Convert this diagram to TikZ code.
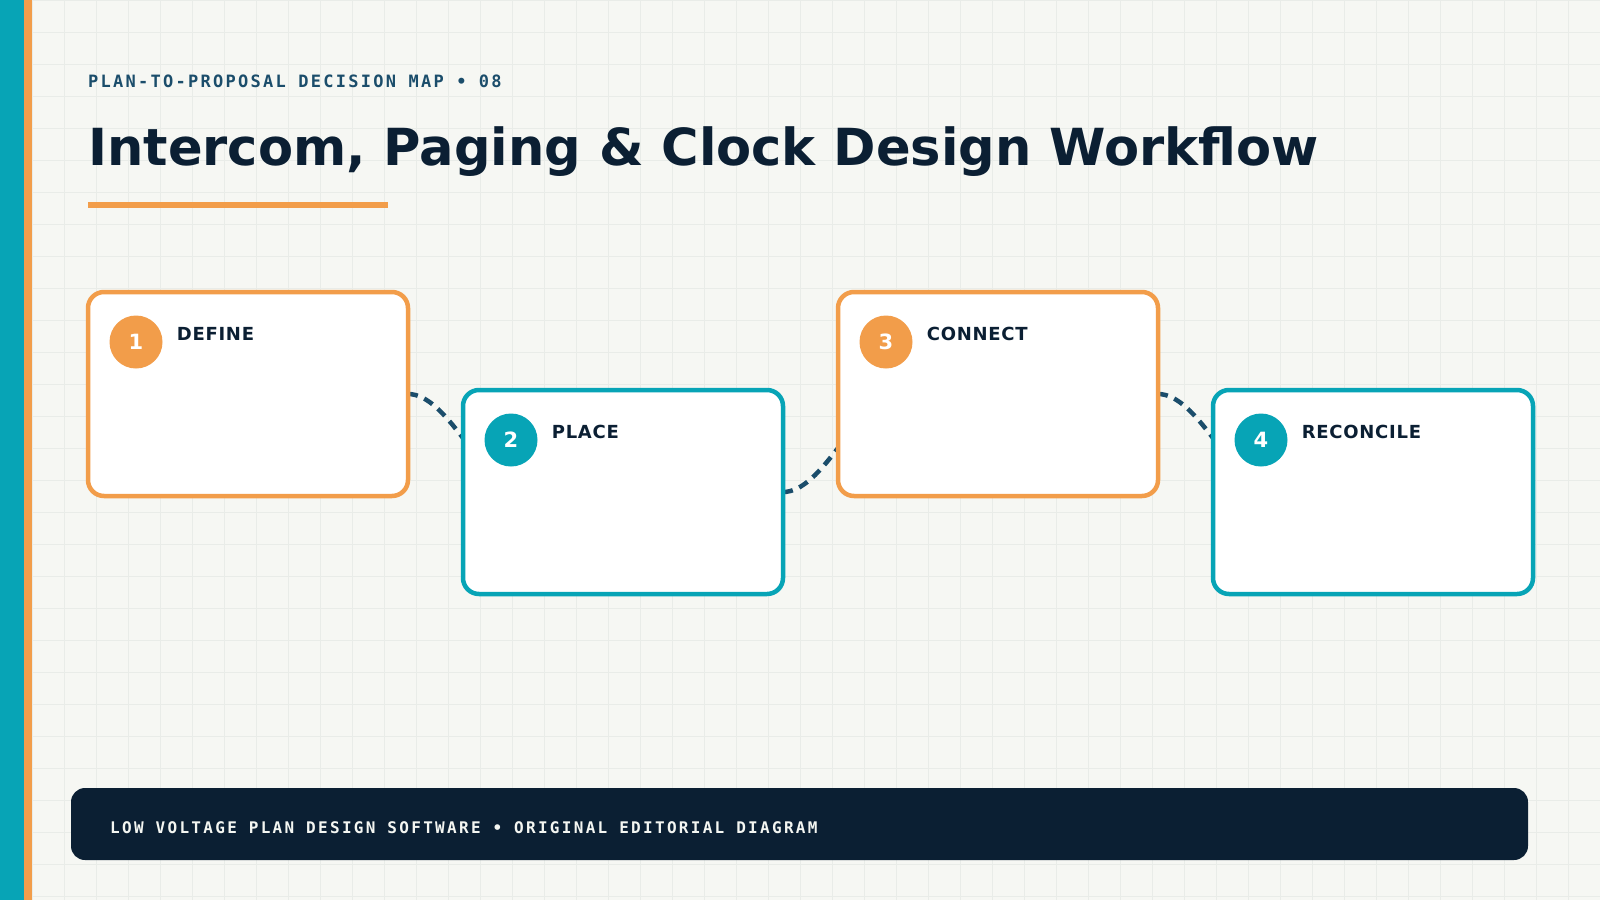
\documentclass[tikz,border=0pt]{standalone}
\usepackage{fontspec}
\setmainfont{DejaVu Sans}
\newfontfamily\headmono[LetterSpace=13.3]{DejaVu Sans Mono}
\newfontfamily\footmono[LetterSpace=14.4]{DejaVu Sans Mono}
\newfontfamily\cardfont[LetterSpace=4]{DejaVu Sans}
\usetikzlibrary{calc}
\definecolor{bgc}{HTML}{F6F7F3}
\definecolor{gridc}{HTML}{E9ECE8}
\definecolor{tealc}{HTML}{07A4B6}
\definecolor{orangec}{HTML}{F29D4A}
\definecolor{navyc}{HTML}{0B1F33}
\definecolor{linkc}{HTML}{1B4D6B}
\definecolor{paperc}{HTML}{F4F6F2}
\pgfdeclarelayer{bg}
\pgfsetlayers{bg,main}
\begin{document}
\begin{tikzpicture}[x=1pt,y=-1pt,
  card/.style={draw=#1, line width=4.5pt, fill=white, rounded corners=16pt,
    minimum width=320pt, minimum height=204pt, anchor=north west, inner sep=0pt, outer sep=0pt},
  badge/.style={circle, fill=#1, minimum size=53pt, inner sep=0pt, text=white,
    font=\bfseries\fontsize{21}{21}\selectfont},
  cardtitle/.style={anchor=base west, inner sep=0pt, text=navyc,
    font=\cardfont\bfseries\fontsize{18}{18}\selectfont},
  link/.style={draw=linkc, line width=4.5pt, dash pattern=on 10pt off 7pt},
  gridline/.style={draw=gridc, line width=1pt},
  footerbar/.style={fill=navyc, rounded corners=14pt, minimum width=1457pt,
    minimum height=72pt, inner sep=0pt, outer sep=0pt}]
\useasboundingbox (0,0) rectangle (1600,900);
\begin{pgfonlayer}{bg}
  \fill[bgc] (0,0) rectangle (1600,900);
  \foreach \i in {0,...,50} \draw[gridline] (32*\i,0) -- (32*\i,900);
  \foreach \j in {0,...,28} \draw[gridline] (0,32*\j) -- (1600,32*\j);
\end{pgfonlayer}
% left stripes
\fill[tealc] (0,0) rectangle (24,900);
\fill[orangec] (24,0) rectangle (32,900);
% header
\node[anchor=base west, inner sep=0pt, text=linkc,
  font=\headmono\bfseries\fontsize{17}{20}\selectfont] (kicker) at (88,87.5)
  {PLAN-TO-PROPOSAL DECISION MAP • 08};
\node[anchor=base west, inner sep=0pt, text=navyc,
  font=\bfseries\fontsize{51.1}{60}\selectfont] (title) at (88,165)
  {Intercom, Paging \& Clock Design Workflow};
\fill[orangec] (88,202) rectangle (388,208);
% cards
\node[card=orangec] (b1) at (88,292) {};
\node[card=tealc] (b2) at (463,390) {};
\node[card=orangec] (b3) at (838,292) {};
\node[card=tealc] (b4) at (1213,390) {};
\node[badge=orangec] (n1) at ($(b1.north west)+(48,50)$) {1};
\node[badge=tealc] (n2) at ($(b2.north west)+(48,50)$) {2};
\node[badge=orangec] (n3) at ($(b3.north west)+(48,50)$) {3};
\node[badge=tealc] (n4) at ($(b4.north west)+(48,50)$) {4};
\node[cardtitle] (t1) at ($(b1.north west)+(88.7,48.5)$) {DEFINE};
\node[cardtitle] (t2) at ($(b2.north west)+(88.7,48.5)$) {PLACE};
\node[cardtitle] (t3) at ($(b3.north west)+(88.7,48.5)$) {CONNECT};
\node[cardtitle] (t4) at ($(b4.north west)+(88.7,48.5)$) {RECONCILE};
% connectors
\coordinate (e1) at ($(b2.west)+(0,-54)$);
\coordinate (e2) at ($(b3.west)+(0,54)$);
\coordinate (e3) at ($(b4.west)+(0,-54)$);
\begin{pgfonlayer}{bg}
  \draw[link] (b1.east) .. controls +(20,0) and +(-17,-22) .. (e1);
  \draw[link] (b2.east) .. controls +(20,0) and +(-17,22) .. (e2);
  \draw[link] (b3.east) .. controls +(20,0) and +(-17,-22) .. (e3);
\end{pgfonlayer}
% footer
\node[footerbar] (footer) at (799.5,824) {};
\node[anchor=base west, inner sep=0pt, text=paperc,
  font=\footmono\bfseries\fontsize{16}{18}\selectfont] (foottext) at (110,833.3)
  {LOW VOLTAGE PLAN DESIGN SOFTWARE • ORIGINAL EDITORIAL DIAGRAM};
\end{tikzpicture}
\end{document}
